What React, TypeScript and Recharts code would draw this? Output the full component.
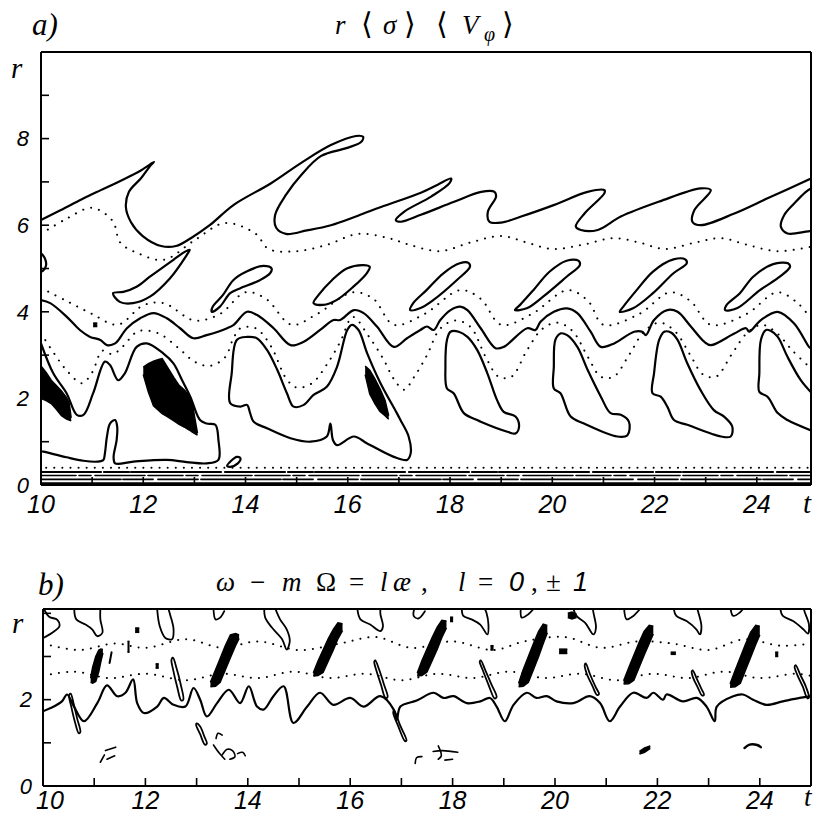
import React from 'react';
import { ComposedChart, Line, Area, XAxis, YAxis } from 'recharts';

type P = [number, number];
type B = [number, number, number];

// ---------- axis ticks ----------
const xTicksBottom = [10, 11, 12, 13, 14, 15, 16, 17, 18, 19, 20, 21, 22, 23, 24];
const xTicksTop = [11, 12, 13, 14, 15, 16, 17, 18, 19, 20, 21, 22, 23, 24];
const xLabels = [10, 12, 14, 16, 18, 20, 22, 24];
const yTicksA = [0, 1, 2, 3, 4, 5, 6, 7, 8, 9];
const yTicksARight = [1, 2, 3, 4, 5, 6, 7, 8, 9];
const yTicksB = [0, 1, 2, 3, 4];
const yTicksBRight = [1, 2, 3, 4];
const yLabelsA = [0, 2, 4, 6, 8];
const yLabelsB = [0, 2];

// ---------- panel a) solid contours ----------
const aWave: P[] = [[10.0,6.12],[10.39,6.35],[10.8,6.6],[11.17,6.81],[11.6,7.05],[11.96,7.27],[12.21,7.46],[12.15,7.39],[11.96,7.09],[11.72,6.77],[11.66,6.42],[11.76,6.07],[11.99,5.75],[12.35,5.52],[12.64,5.52],[12.93,5.7],[13.3,6.0],[13.77,6.47],[14.5,6.97],[15.09,7.44],[15.67,7.85],[16.16,8.06],[16.3,8.04],[16.26,7.92],[15.97,7.78],[15.48,7.6],[15.09,7.16],[14.79,6.7],[14.58,6.24],[14.6,5.94],[14.79,5.8],[15.2,5.88],[15.67,6.0],[16.2,6.22],[16.65,6.42],[17.43,6.75],[17.75,6.93],[18.02,7.08],[17.99,6.97],[17.63,6.66],[17.1,6.31],[16.94,6.12],[17.04,6.08],[17.43,6.24],[18.08,6.54],[18.61,6.77],[18.87,6.77],[18.9,6.66],[18.74,6.31],[18.77,6.08],[19.0,6.06],[19.39,6.2],[20.04,6.47],[20.69,6.77],[21.02,6.81],[21.02,6.74],[20.63,6.27],[20.46,5.97],[20.56,5.89],[20.89,5.89],[21.34,6.2],[22.1,6.55],[22.9,6.85],[23.1,6.81],[22.78,6.35],[22.74,6.08],[22.9,6.0],[23.56,6.27],[24.21,6.62],[25.06,7.08]];
const aWaveEdge: P[] = [[25.06,6.85],[24.96,6.77],[24.73,6.5],[24.54,6.24],[24.47,5.97],[24.6,5.81],[24.96,5.85],[25.06,5.87]];
const aLeftBump: P[] = [[10.0,5.35],[10.07,5.25],[10.1,5.08],[10.04,4.95],[10.0,4.93]];
const aMid: P[] = [[10.0,4.27],[10.18,4.2],[10.5,3.89],[10.76,3.58],[10.96,3.42],[11.16,3.35],[11.29,3.23],[11.45,3.27],[11.68,3.62],[11.94,3.85],[12.2,3.97],[12.46,3.85],[12.72,3.62],[12.98,3.39],[13.24,3.46],[13.64,3.62],[13.77,3.7],[14.03,4.0],[14.22,3.93],[14.55,3.62],[14.88,3.23],[15.14,3.31],[15.46,3.58],[15.72,3.81],[15.85,3.81],[16.12,4.04],[16.31,3.97],[16.57,3.66],[16.9,3.19],[17.16,3.39],[17.42,3.58],[17.55,3.66],[17.68,3.58],[17.81,3.81],[18.01,4.04],[18.2,4.12],[18.34,4.04],[18.6,3.62],[18.89,3.16],[19.05,3.19],[19.51,3.62],[19.67,3.58],[19.77,3.77],[20.03,4.0],[20.29,4.08],[20.49,3.97],[20.75,3.54],[20.95,3.19],[21.21,3.27],[21.6,3.54],[21.76,3.54],[21.83,3.46],[21.99,3.81],[22.25,4.04],[22.45,4.0],[22.71,3.66],[22.97,3.31],[23.1,3.23],[23.56,3.5],[23.79,3.62],[23.85,3.54],[24.08,3.81],[24.41,4.0],[24.73,3.73],[25.02,3.19],[25.06,3.15]];
const aLowLeft: P[] = [[10.0,3.27],[10.24,2.58],[10.5,2.12],[10.7,1.62],[10.83,1.62],[11.02,2.12],[11.25,2.85],[11.35,2.77],[11.51,2.42],[11.64,2.58],[11.87,3.19],[12.07,3.27],[12.39,3.04],[12.59,2.81],[12.76,2.42],[12.92,2.04],[13.11,1.5],[13.24,1.42],[13.41,1.39],[13.47,1.04],[13.47,0.58],[13.24,0.5],[12.85,0.53],[12.46,0.58],[11.81,0.54],[11.45,0.5],[11.42,0.65],[11.48,1.04],[11.49,1.35],[11.45,1.5],[11.35,1.42],[11.29,1.12],[11.25,0.73],[11.22,0.58],[11.1,0.54],[10.83,0.56],[10.5,0.64],[10.05,0.77],[10.0,0.78]];
const aLoopD: P[] = [[13.83,3.35],[14.03,3.42],[14.22,3.39],[14.42,3.12],[14.62,2.66],[14.81,2.12],[14.94,1.81],[15.14,1.85],[15.33,2.08],[15.59,2.27],[15.79,2.73],[15.99,3.58],[16.08,3.7],[16.21,3.58],[16.38,3.04],[16.64,2.35],[16.96,1.66],[17.03,1.5],[17.19,1.12],[17.23,0.73],[17.16,0.58],[16.9,0.65],[16.38,0.96],[16.12,1.12],[15.79,0.92],[15.71,1.04],[15.66,1.42],[15.59,1.12],[15.27,1.0],[14.88,1.08],[14.42,1.31],[14.16,1.46],[14.09,1.66],[14.03,1.85],[13.9,1.81],[13.7,1.89],[13.73,2.58],[13.83,3.35]];
const aLoopE1: P[] = [[18.01,3.54],[17.94,3.35],[17.91,2.73],[17.94,2.23],[18.07,2.12],[18.27,1.66],[18.53,1.5],[18.6,1.46],[19.12,1.23],[19.28,1.19],[19.35,1.35],[19.28,1.58],[19.05,1.69],[18.92,1.96],[18.73,2.58],[18.53,3.12],[18.34,3.42],[18.17,3.54],[18.01,3.54]];
const aLoopE2: P[] = [[20.16,3.5],[20.06,3.35],[20.03,2.73],[20.03,2.23],[20.16,2.12],[20.36,1.58],[20.62,1.42],[21.27,1.12],[21.47,1.15],[21.5,1.46],[21.34,1.62],[21.14,1.66],[20.95,2.04],[20.69,2.66],[20.49,3.19],[20.29,3.46],[20.16,3.5]];
const aLoopE3: P[] = [[22.19,3.54],[22.09,3.35],[21.99,2.58],[21.96,2.12],[22.12,2.04],[22.25,1.81],[22.38,1.5],[22.64,1.39],[23.3,1.12],[23.49,1.12],[23.52,1.35],[23.36,1.58],[23.16,1.73],[22.9,2.19],[22.64,2.81],[22.45,3.35],[22.32,3.52],[22.19,3.54]];
const aLoopE4: P[] = [[25.06,2.14],[24.86,2.42],[24.6,2.96],[24.41,3.42],[24.27,3.56],[24.18,3.58],[24.08,3.35],[24.05,2.58],[24.05,2.15],[24.21,2.04],[24.41,1.66],[24.6,1.5],[25.06,1.26]];
const aSmallLoop: P[] = [[13.64,0.44],[13.72,0.56],[13.83,0.65],[13.9,0.62],[13.85,0.5],[13.7,0.42],[13.64,0.44]];
const aIsle1: P[] = [[11.41,4.43],[11.54,4.23],[11.8,4.2],[12.13,4.35],[12.52,4.77],[12.85,5.31],[12.91,5.43],[12.82,5.39],[12.59,5.2],[12.13,4.81],[11.87,4.58],[11.61,4.46],[11.41,4.43]];
const aIsle2: P[] = [[13.34,4.0],[13.5,4.12],[13.7,4.43],[13.89,4.54],[14.28,4.73],[14.48,4.89],[14.51,5.0],[14.35,5.06],[14.02,4.93],[13.76,4.73],[13.56,4.39],[13.36,4.12],[13.34,4.0]];
const aIsle3: P[] = [[15.33,4.2],[15.52,4.16],[15.78,4.27],[16.11,4.58],[16.37,4.89],[16.43,5.04],[16.3,5.08],[15.98,5.0],[15.69,4.73],[15.43,4.39],[15.33,4.2]];
const aIsle4: P[] = [[17.22,4.04],[17.41,4.08],[17.67,4.27],[18.13,4.73],[18.39,5.04],[18.36,5.13],[18.19,5.12],[17.87,4.89],[17.54,4.5],[17.28,4.2],[17.22,4.04]];
const aIsle5: P[] = [[19.27,4.04],[19.5,4.08],[19.82,4.35],[20.28,4.81],[20.54,5.08],[20.51,5.18],[20.28,5.18],[19.95,4.93],[19.63,4.5],[19.37,4.16],[19.27,4.04]];
const aIsle6: P[] = [[21.32,4.0],[21.58,4.08],[21.97,4.43],[22.37,4.89],[22.63,5.12],[22.6,5.21],[22.37,5.21],[21.97,4.93],[21.65,4.5],[21.39,4.12],[21.32,4.0]];
const aIsle7: P[] = [[23.38,4.04],[23.61,4.08],[24.06,4.5],[24.45,4.81],[24.65,5.04],[24.61,5.12],[24.32,5.1],[23.93,4.81],[23.67,4.43],[23.41,4.16],[23.38,4.04]];

// bottom strip of nearly horizontal contours in panel a)
const aBase1: P[] = [[10.0,0.3],[25.03,0.3]];
const aBase2: P[] = [[10.0,0.22],[25.03,0.22]];
const aBase3: P[] = [[10.0,0.13],[25.03,0.13]];
const aBase4: P[] = [[10.0,0.03],[25.06,0.03]];
const aBaseDots: P[] = [[10.1,0.4],[25.0,0.4]];

// ---------- panel a) dotted contours ----------
const aDotUpper: P[] = [[10.0,5.8],[10.5,6.15],[11.0,6.4],[11.4,6.1],[11.55,5.6],[11.9,5.35],[12.4,5.2],[13.0,5.65],[13.6,6.05],[14.2,5.8],[14.45,5.45],[15.0,5.4],[15.6,5.55],[16.2,5.8],[16.8,5.7],[17.2,5.55],[17.8,5.4],[18.4,5.6],[19.0,5.75],[19.5,5.6],[20.0,5.45],[20.6,5.55],[21.2,5.7],[21.7,5.6],[22.2,5.45],[22.8,5.6],[23.3,5.7],[23.8,5.55],[24.4,5.4],[25.05,5.5]];
const aDotMid: P[] = [[10.0,4.55],[10.5,4.25],[11.0,3.95],[11.5,3.7],[12.0,4.15],[12.4,4.2],[13.0,3.8],[13.5,3.95],[14.0,4.45],[14.4,4.3],[14.9,3.7],[15.4,3.95],[16.1,4.45],[16.5,4.3],[16.9,3.7],[17.5,3.95],[18.2,4.5],[18.6,4.3],[19.0,3.7],[19.6,3.95],[20.3,4.5],[20.7,4.25],[21.0,3.7],[21.7,3.95],[22.3,4.45],[22.7,4.25],[23.1,3.7],[23.8,3.95],[24.4,4.45],[24.8,4.2],[25.05,3.85]];
const aDotLow: P[] = [[10.0,3.5],[10.25,3.05],[10.5,2.65],[10.8,2.35],[11.0,2.6],[11.2,3.1],[11.4,3.02],[11.6,3.2],[11.9,3.55],[12.3,3.5],[12.7,3.15],[13.0,2.85],[13.3,2.75],[13.6,2.95],[13.75,3.35],[13.9,3.62],[14.2,3.62],[14.5,3.2],[14.8,2.45],[15.0,2.25],[15.3,2.35],[15.6,2.8],[15.85,3.3],[16.1,3.88],[16.4,3.45],[16.7,2.9],[16.9,2.45],[17.1,2.2],[17.3,2.5],[17.55,3.0],[17.8,3.6],[18.1,3.8],[18.4,3.65],[18.7,2.95],[18.95,2.5],[19.2,2.5],[19.5,3.1],[19.8,3.6],[20.1,3.75],[20.4,3.55],[20.7,2.95],[20.95,2.5],[21.2,2.5],[21.5,3.0],[21.8,3.55],[22.1,3.75],[22.4,3.55],[22.7,3.0],[22.95,2.55],[23.2,2.5],[23.5,3.0],[23.8,3.5],[24.1,3.7],[24.4,3.5],[24.7,3.1],[25.05,2.7]];

// ---------- panel a) filled (black) regions: [t, rLow, rHigh] ----------
const aBlob1: B[] = [[10.0,2.0,2.75],[10.1,1.95,2.6],[10.2,1.88,2.42],[10.3,1.75,2.3],[10.4,1.6,2.17],[10.5,1.52,2.02],[10.55,1.5,1.9],[10.59,1.48,1.55]];
const aBlob2: B[] = [[12.0,2.55,2.72],[12.1,2.15,2.8],[12.2,1.83,2.86],[12.3,1.72,2.9],[12.37,1.65,2.92],[12.47,1.58,2.73],[12.6,1.48,2.48],[12.7,1.4,2.3],[12.8,1.34,2.2],[12.9,1.27,2.06],[12.96,1.22,1.9],[13.0,1.19,1.6],[13.06,1.15,1.2]];
const aBlob3: B[] = [[16.34,2.55,2.75],[16.43,2.1,2.65],[16.53,1.88,2.45],[16.63,1.7,2.22],[16.73,1.6,1.95],[16.8,1.52,1.6]];
const aDot1: B[] = [[11.02,3.66,3.74],[11.1,3.66,3.74]];

// ---------- panel b) solid contours ----------
const bWave: P[] = [[10.0,1.73],[10.21,1.84],[10.37,1.96],[10.47,2.12],[10.6,1.85],[10.8,1.5],[11.06,1.92],[11.25,2.33],[11.45,2.08],[11.61,2.16],[11.76,2.47],[11.84,1.92],[11.97,1.69],[12.23,1.84],[12.36,2.04],[12.55,1.88],[12.78,1.84],[12.94,2.27],[13.07,2.0],[13.2,1.61],[13.4,1.92],[13.63,2.23],[13.85,1.92],[14.02,2.31],[14.18,1.84],[14.31,1.77],[14.5,2.08],[14.7,2.31],[14.89,1.46],[15.16,1.84],[15.41,2.16],[15.67,1.88],[16.0,2.04],[16.26,1.84],[16.59,2.08],[16.85,1.77],[16.91,1.53],[16.98,1.84],[17.3,1.98],[17.63,2.16],[17.82,2.04],[18.02,2.08],[18.28,1.92],[18.54,1.96],[18.73,2.04],[18.86,1.84],[19.02,1.5],[19.19,1.88],[19.45,2.16],[19.64,2.04],[19.84,2.08],[20.03,1.96],[20.36,1.92],[20.68,2.08],[20.88,1.92],[21.07,1.5],[21.27,1.84],[21.53,2.16],[21.79,2.04],[21.92,2.16],[22.11,2.0],[22.18,2.12],[22.5,1.96],[22.77,2.04],[22.96,1.84],[23.12,1.5],[23.16,1.84],[23.48,2.08],[23.67,2.12],[23.87,2.0],[24.13,1.88],[24.45,1.96],[24.78,2.04],[25.0,2.08]];
const bSlim1: P[] = [[10.54,2.14],[10.6,1.9],[10.67,1.55],[10.73,1.25],[10.7,1.22],[10.62,1.5],[10.55,1.85],[10.51,2.1],[10.54,2.14]];
const bSlim2: P[] = [[12.54,2.97],[12.61,2.72],[12.69,2.35],[12.74,2.0],[12.7,1.98],[12.62,2.3],[12.54,2.7],[12.51,2.93],[12.54,2.97]];
const bSlim3: P[] = [[13.0,1.45],[13.07,1.38],[13.15,1.15],[13.2,0.98],[13.16,0.96],[13.07,1.2],[12.99,1.42],[13.0,1.45]];
const bSlim4: P[] = [[16.49,2.91],[16.57,2.68],[16.66,2.35],[16.73,2.06],[16.69,2.04],[16.6,2.35],[16.51,2.68],[16.47,2.88],[16.49,2.91]];
const bSlim5: P[] = [[16.86,1.75],[16.97,1.42],[17.1,1.05],[17.07,1.04],[16.94,1.38],[16.84,1.7],[16.86,1.75]];
const bSlim6: P[] = [[18.55,2.91],[18.64,2.68],[18.76,2.35],[18.86,2.06],[18.82,2.03],[18.7,2.35],[18.59,2.68],[18.53,2.88],[18.55,2.91]];
const bSlim7: P[] = [[20.6,2.84],[20.68,2.6],[20.79,2.3],[20.86,2.13],[20.82,2.11],[20.73,2.32],[20.62,2.6],[20.58,2.8],[20.6,2.84]];
const bSlim8: P[] = [[22.69,2.68],[22.77,2.48],[22.86,2.25],[22.91,2.11],[22.87,2.1],[22.79,2.28],[22.7,2.5],[22.67,2.65],[22.69,2.68]];
const bSlim9: P[] = [[24.7,2.8],[24.79,2.58],[24.9,2.3],[24.96,2.05],[24.93,2.03],[24.84,2.3],[24.73,2.58],[24.68,2.76],[24.7,2.8]];
const bHook1: P[] = [[10.02,4.1],[10.12,3.92],[10.28,3.85],[10.32,3.7],[10.18,3.55],[10.04,3.45],[10.0,3.42]];
const bHook2: P[] = [[10.61,4.1],[10.65,3.86],[10.83,3.74],[10.96,3.63],[11.06,3.47],[11.16,3.55],[11.12,3.86],[11.12,4.1]];
const bHook3: P[] = [[12.23,4.1],[12.28,3.7],[12.39,3.43],[12.52,3.4],[12.55,3.63],[12.49,3.94],[12.45,4.1]];
const bHook4: P[] = [[13.33,4.1],[13.37,3.86],[13.46,3.9],[13.54,4.05]];
const bHook5: P[] = [[14.32,4.1],[14.34,3.9],[14.47,3.67],[14.67,3.4],[14.76,3.16],[14.82,3.36],[14.76,3.63],[14.63,3.86],[14.54,4.1]];
const bHook6: P[] = [[16.14,4.1],[16.2,3.86],[16.39,3.74],[16.59,3.59],[16.64,3.7],[16.59,3.98],[16.59,4.1]];
const bHook7: P[] = [[17.25,4.1],[17.24,3.94],[17.33,3.88],[17.46,4.05]];
const bHook8: P[] = [[18.18,4.1],[18.21,3.94],[18.37,3.86],[18.54,3.74],[18.68,3.51],[18.7,3.74],[18.66,4.02],[18.63,4.1]];
const bHook9: P[] = [[19.33,4.1],[19.35,3.9],[19.48,3.98],[19.58,4.1]];
const bHook10: P[] = [[20.36,4.1],[20.42,3.94],[20.59,3.78],[20.75,3.51],[20.8,3.67],[20.75,4.02],[20.74,4.1]];
const bHook11: P[] = [[21.35,4.1],[21.4,3.86],[21.53,3.94],[21.66,4.1]];
const bHook12: P[] = [[22.32,4.1],[22.37,3.94],[22.57,3.82],[22.76,3.63],[22.83,3.51],[22.86,3.7],[22.8,4.02],[22.78,4.1]];
const bHook13: P[] = [[23.43,4.1],[23.48,3.94],[23.61,4.02],[23.67,4.1]];
const bHook14: P[] = [[24.4,4.1],[24.45,3.94],[24.65,3.82],[24.85,3.63],[24.94,3.53],[24.96,3.74],[24.88,4.02],[24.86,4.1]];
const bScr1: P[] = [[11.12,0.55],[11.2,0.72]];
const bScr2: P[] = [[11.25,0.62],[11.4,0.7]];
const bScr3: P[] = [[11.22,0.82],[11.42,0.9]];
const bScr4: P[] = [[13.38,1.1],[13.42,1.22],[13.5,1.18]];
const bScr5: P[] = [[13.33,0.95],[13.45,0.75],[13.55,0.62]];
const bScr6: P[] = [[13.5,0.72],[13.6,0.85],[13.7,0.82],[13.75,0.68],[13.65,0.62]];
const bScr7: P[] = [[13.8,0.75],[13.9,0.78],[13.95,0.7]];
const bScr8: P[] = [[17.27,0.52],[17.3,0.66],[17.4,0.68]];
const bScr9: P[] = [[17.62,0.8],[17.8,0.82],[18.1,0.78]];
const bScr10: P[] = [[17.72,0.93],[17.78,0.7],[17.72,0.62]];
const bScr11: P[] = [[17.85,0.6],[18.0,0.62]];
const bScr12: P[] = [[23.7,0.88],[23.8,0.96],[23.95,0.95],[24.02,0.9]];
const bTick1: P[] = [[11.3,2.85],[11.34,3.1]];

// ---------- panel b) dotted contours ----------
const bDotHigh: P[] = [[10.0,3.3],[10.7,3.15],[11.4,3.3],[12.0,3.2],[12.8,3.4],[13.5,3.2],[14.2,3.35],[15.0,3.15],[15.8,3.3],[16.5,3.45],[17.2,3.2],[18.0,3.35],[18.8,3.15],[19.4,3.35],[20.2,3.45],[20.9,3.2],[21.6,3.35],[22.3,3.3],[23.0,3.15],[23.7,3.4],[24.4,3.25],[25.0,3.3]];
const bDotLow: P[] = [[10.0,2.55],[10.6,2.65],[11.3,2.5],[12.0,2.6],[12.8,2.45],[13.5,2.6],[14.2,2.5],[14.9,2.65],[15.6,2.5],[16.3,2.6],[17.0,2.45],[17.7,2.6],[18.4,2.5],[19.1,2.65],[19.8,2.5],[20.5,2.6],[21.2,2.45],[21.9,2.6],[22.6,2.5],[23.3,2.65],[24.0,2.5],[24.7,2.6],[25.0,2.55]];

// ---------- panel b) filled regions ----------
const bBlob1: B[] = [[10.93,2.4,2.5],[10.97,2.38,2.75],[11.03,2.42,3.0],[11.09,2.65,3.15],[11.13,2.88,3.17],[11.17,3.08,3.16]];
const bBlob2: B[] = [[13.27,2.3,2.4],[13.37,2.31,2.69],[13.46,2.4,2.95],[13.56,2.69,3.25],[13.66,2.97,3.5],[13.76,3.25,3.53],[13.83,3.42,3.5]];
const bBlob3: B[] = [[15.28,2.55,2.62],[15.37,2.56,2.89],[15.47,2.63,3.15],[15.57,2.89,3.41],[15.67,3.15,3.63],[15.76,3.41,3.78],[15.85,3.6,3.76]];
const bBlob4: B[] = [[17.31,2.55,2.62],[17.4,2.56,2.9],[17.5,2.64,3.17],[17.6,2.9,3.44],[17.7,3.17,3.68],[17.79,3.44,3.84],[17.88,3.66,3.82]];
const bBlob5: B[] = [[19.29,2.3,2.38],[19.38,2.31,2.7],[19.48,2.4,3.0],[19.58,2.7,3.3],[19.68,3.0,3.58],[19.77,3.3,3.75],[19.85,3.55,3.72]];
const bBlob6: B[] = [[21.34,2.36,2.44],[21.44,2.37,2.74],[21.54,2.45,3.03],[21.64,2.74,3.32],[21.74,3.03,3.58],[21.84,3.3,3.72],[21.92,3.52,3.7]];
const bBlob7: B[] = [[23.42,2.29,2.37],[23.52,2.3,2.68],[23.62,2.38,2.98],[23.72,2.68,3.28],[23.82,2.98,3.56],[23.92,3.28,3.72],[24.0,3.5,3.7]];
const bSpot1: B[] = [[11.8,3.56,3.66],[11.88,3.56,3.66]];
const bSpot2: B[] = [[11.65,3.1,3.35],[11.69,3.1,3.35]];
const bSpot3: B[] = [[12.2,2.73,2.83],[12.26,2.73,2.83]];
const bSpot4: B[] = [[17.95,3.81,3.91],[18.01,3.81,3.91]];
const bSpot5: B[] = [[18.74,3.15,3.25],[18.8,3.15,3.25]];
const bSpot6: B[] = [[20.08,3.07,3.17],[20.24,3.07,3.17]];
const bSpot7: B[] = [[22.26,3.05,3.1],[22.36,3.05,3.1]];
const bSpot8: B[] = [[24.3,3.0,3.1],[24.36,3.0,3.1]];
const bSpot9: B[] = [[20.25,3.9,4.0],[20.33,3.87,4.03],[20.42,3.9,3.98]];
const bSpot10: B[] = [[21.65,0.74,0.8],[21.75,0.78,0.88],[21.86,0.87,0.93]];

// ---------- helpers ----------
const pts = (a: P[]) => a.map(([t, r]) => ({ t, r }));
const band = (a: B[]) => a.map(([t, lo, hi]) => ({ t, band: [lo, hi] }));

const SANS = 'Liberation Sans, Arial, Helvetica, sans-serif';
const SERIF = 'Liberation Serif, Times New Roman, DejaVu Serif, serif';

// centripetal Catmull-Rom curve (smooth line through every contour vertex)
function smoothCurve(context: any) {
  let buf: [number, number][] = [];
  return {
    areaStart() {},
    areaEnd() {},
    lineStart() { buf = []; },
    point(x: number, y: number) { buf.push([+x, +y]); },
    lineEnd() {
      const n = buf.length;
      if (n === 0) return;
      context.moveTo(buf[0][0], buf[0][1]);
      if (n < 3) {
        for (let i = 1; i < n; i++) context.lineTo(buf[i][0], buf[i][1]);
        return;
      }
      const closed = Math.abs(buf[0][0] - buf[n - 1][0]) < 0.01 && Math.abs(buf[0][1] - buf[n - 1][1]) < 0.01;
      const d = (a: [number, number], b: [number, number]) => Math.hypot(a[0] - b[0], a[1] - b[1]);
      for (let i = 0; i < n - 1; i++) {
        const p1 = buf[i];
        const p2 = buf[i + 1];
        const p0 = i > 0 ? buf[i - 1] : closed ? buf[n - 2] : p1;
        const p3 = i + 2 < n ? buf[i + 2] : closed ? buf[1] : p2;
        const d01 = d(p0, p1), d12 = d(p1, p2), d23 = d(p2, p3);
        const s01 = Math.sqrt(d01), s12 = Math.sqrt(d12), s23 = Math.sqrt(d23);
        let c1x = p1[0], c1y = p1[1], c2x = p2[0], c2y = p2[1];
        if (s01 > 1e-6 && s12 > 1e-6) {
          const a = 2 * d01 + 3 * s01 * s12 + d12;
          const m = 3 * s01 * (s01 + s12);
          c1x = (p1[0] * a - p0[0] * d12 + p2[0] * d01) / m;
          c1y = (p1[1] * a - p0[1] * d12 + p2[1] * d01) / m;
        }
        if (s23 > 1e-6 && s12 > 1e-6) {
          const b = 2 * d23 + 3 * s23 * s12 + d12;
          const m = 3 * s23 * (s23 + s12);
          c2x = (p2[0] * b + p1[0] * d23 - p3[0] * d12) / m;
          c2y = (p2[1] * b + p1[1] * d23 - p3[1] * d12) / m;
        }
        context.bezierCurveTo(c1x, c1y, c2x, c2y, p2[0], p2[1]);
      }
    },
  };
}

type LineOpt = { w?: number; dash?: string; straight?: boolean };

function solid(key: string, a: P[], o: LineOpt = {}) {
  return (
    <Line
      key={key}
      data={pts(a)}
      dataKey="r"
      xAxisId="x"
      yAxisId="y"
      type={o.straight ? 'linear' : (smoothCurve as any)}
      stroke="#000"
      strokeWidth={o.w ?? 2.2}
      strokeDasharray={o.dash}
      strokeLinecap="round"
      strokeLinejoin="round"
      dot={false}
      activeDot={false}
      isAnimationActive={false}
      legendType="none"
    />
  );
}

function dotted(key: string, a: P[]) {
  return solid(key, a, { w: 2, dash: '0.1 8' });
}

function filled(key: string, a: B[]) {
  return (
    <Area
      key={key}
      data={band(a)}
      dataKey="band"
      xAxisId="x"
      yAxisId="y"
      type="linear"
      stroke="#000"
      strokeWidth={1.5}
      fill="#000"
      fillOpacity={1}
      dot={false}
      activeDot={false}
      isAnimationActive={false}
      legendType="none"
    />
  );
}

const axisLine = { stroke: '#000', strokeWidth: 2 };
const tickLine = { stroke: '#000', strokeWidth: 1.6 };

function makeXTick(shift10: number, baseline: number) {
  return (props: any) => {
    const { x, y, payload } = props;
    const v = payload?.value;
    if (!xLabels.includes(v)) return <g />;
    return (
      <text
        x={x + (v === 10 ? shift10 : 0)}
        y={y + baseline}
        textAnchor="middle"
        fill="#000"
        fontSize={25}
        fontStyle="italic"
        fontFamily={SANS}
      >
        {String(v)}
      </text>
    );
  };
}

function frameAxes(
  xDomain: [number, number],
  yDomain: [number, number],
  yTicks: number[],
  yRight: number[],
  yLabels: number[],
  xHeight: number,
  yWidth: number,
  yMargin: number,
  shift10: number,
  baseline: number,
) {
  return [
    <XAxis
      key="xb"
      xAxisId="x"
      dataKey="t"
      type="number"
      domain={xDomain}
      allowDataOverflow
      ticks={xTicksBottom}
      interval={0}
      height={xHeight}
      tickSize={-8}
      tickMargin={10}
      axisLine={axisLine}
      tickLine={tickLine}
      tick={makeXTick(shift10, baseline)}
    />,
    <XAxis
      key="xt"
      xAxisId="top"
      orientation="top"
      type="number"
      domain={xDomain}
      allowDataOverflow
      ticks={xTicksTop}
      interval={0}
      height={1}
      tickSize={-8}
      axisLine={axisLine}
      tickLine={tickLine}
      tick={false}
    />,
    <YAxis
      key="yl"
      yAxisId="y"
      type="number"
      domain={yDomain}
      allowDataOverflow
      ticks={yTicks}
      interval={0}
      tickFormatter={(v: number) => (yLabels.includes(v) ? String(v) : '')}
      width={yWidth}
      tickSize={-8}
      tickMargin={yMargin}
      axisLine={axisLine}
      tickLine={tickLine}
      tick={{ fill: '#000', fontSize: 22, fontStyle: 'italic', fontFamily: SANS }}
    />,
    <YAxis
      key="yr"
      yAxisId="right"
      orientation="right"
      type="number"
      domain={yDomain}
      allowDataOverflow
      ticks={yRight}
      interval={0}
      width={1}
      tickSize={-8}
      axisLine={axisLine}
      tickLine={tickLine}
      tick={false}
    />,
  ];
}

export default function App() {
  return (
    <div style={{ position: 'absolute', left: 0, top: 0, width: 819, height: 813, background: '#fff' }}>
      <div style={{ position: 'absolute', left: 0, top: 0 }}>
        <ComposedChart width={819} height={530} margin={{ top: 51, right: 7, left: 0, bottom: 0 }}>
          {frameAxes([10, 25.06], [0, 10], yTicksA, yTicksARight, yLabelsA, 45, 41, 20, 0, 26)}
          {dotted('dU', aDotUpper)}
          {dotted('dM', aDotMid)}
          {dotted('dL', aDotLow)}
          {dotted('dB', aBaseDots)}
          {solid('base1', aBase1, { w: 2.2, dash: '60 3 25 2 90 4', straight: true })}
          {solid('base2', aBase2, { w: 1.6, dash: '35 3 12 4 50 3', straight: true })}
          {solid('base3', aBase3, { w: 1.8, dash: '80 2 30 5 40 3', straight: true })}
          {solid('base4', aBase4, { w: 3, straight: true })}
          {solid('wave', aWave)}
          {solid('waveEdge', aWaveEdge)}
          {solid('bump', aLeftBump)}
          {solid('mid', aMid)}
          {solid('lowLeft', aLowLeft)}
          {solid('D', aLoopD)}
          {solid('E1', aLoopE1)}
          {solid('E2', aLoopE2)}
          {solid('E3', aLoopE3)}
          {solid('E4', aLoopE4)}
          {solid('small', aSmallLoop)}
          {solid('I1', aIsle1)}
          {solid('I2', aIsle2)}
          {solid('I3', aIsle3)}
          {solid('I4', aIsle4)}
          {solid('I5', aIsle5)}
          {solid('I6', aIsle6)}
          {solid('I7', aIsle7)}
          {filled('b1', aBlob1)}
          {filled('b2', aBlob2)}
          {filled('b3', aBlob3)}
          {filled('d1', aDot1)}
        </ComposedChart>
      </div>

      <div style={{ position: 'absolute', left: 0, top: 560 }}>
        <ComposedChart width={819} height={253} margin={{ top: 48, right: 7, left: 0, bottom: 0 }}>
          {frameAxes([10, 25], [0, 4.1], yTicksB, yTicksBRight, yLabelsB, 27, 43, 19, 7, 21)}
          {dotted('bdH', bDotHigh)}
          {dotted('bdL', bDotLow)}
          {solid('bw', bWave)}
          {solid('s1', bSlim1, { w: 1.8 })}
          {solid('s2', bSlim2, { w: 1.8 })}
          {solid('s3', bSlim3, { w: 1.8 })}
          {solid('s4', bSlim4, { w: 1.8 })}
          {solid('s5', bSlim5, { w: 1.8 })}
          {solid('s6', bSlim6, { w: 1.8 })}
          {solid('s7', bSlim7, { w: 1.8 })}
          {solid('s8', bSlim8, { w: 1.8 })}
          {solid('s9', bSlim9, { w: 1.8 })}
          {solid('h1', bHook1, { w: 1.8 })}
          {solid('h2', bHook2, { w: 1.8 })}
          {solid('h3', bHook3, { w: 1.8 })}
          {solid('h4', bHook4, { w: 1.8 })}
          {solid('h5', bHook5, { w: 1.8 })}
          {solid('h6', bHook6, { w: 1.8 })}
          {solid('h7', bHook7, { w: 1.8 })}
          {solid('h8', bHook8, { w: 1.8 })}
          {solid('h9', bHook9, { w: 1.8 })}
          {solid('h10', bHook10, { w: 1.8 })}
          {solid('h11', bHook11, { w: 1.8 })}
          {solid('h12', bHook12, { w: 1.8 })}
          {solid('h13', bHook13, { w: 1.8 })}
          {solid('h14', bHook14, { w: 1.8 })}
          {solid('c1', bScr1, { w: 1.6 })}
          {solid('c2', bScr2, { w: 1.6 })}
          {solid('c3', bScr3, { w: 1.6 })}
          {solid('c4', bScr4, { w: 1.6 })}
          {solid('c5', bScr5, { w: 1.6 })}
          {solid('c6', bScr6, { w: 1.6 })}
          {solid('c7', bScr7, { w: 1.6 })}
          {solid('c8', bScr8, { w: 1.6 })}
          {solid('c9', bScr9, { w: 1.6 })}
          {solid('c10', bScr10, { w: 1.6 })}
          {solid('c11', bScr11, { w: 1.6 })}
          {solid('c12', bScr12, { w: 2.4 })}
          {solid('tk1', bTick1, { w: 2 })}
          {filled('p1', bBlob1)}
          {filled('p2', bBlob2)}
          {filled('p3', bBlob3)}
          {filled('p4', bBlob4)}
          {filled('p5', bBlob5)}
          {filled('p6', bBlob6)}
          {filled('p7', bBlob7)}
          {filled('q1', bSpot1)}
          {filled('q2', bSpot2)}
          {filled('q3', bSpot3)}
          {filled('q4', bSpot4)}
          {filled('q5', bSpot5)}
          {filled('q6', bSpot6)}
          {filled('q7', bSpot7)}
          {filled('q8', bSpot8)}
          {filled('q9', bSpot9)}
          {filled('q10', bSpot10)}
        </ComposedChart>
      </div>

      <svg width={819} height={813} style={{ position: 'absolute', left: 0, top: 0, pointerEvents: 'none' }}>
        <g fill="#000">
          <text x={32} y={35} fontFamily={SERIF} fontStyle="italic" fontSize={31}>a)</text>
          <text y={34} fontFamily={SERIF} fontSize={27}>
            <tspan x={335} fontStyle="italic">r</tspan>
            <tspan x={361} fontSize={30}>⟨</tspan>
            <tspan x={383} fontStyle="italic">σ</tspan>
            <tspan x={404} fontSize={30}>⟩</tspan>
            <tspan x={436} fontSize={30}>⟨</tspan>
            <tspan x={462} fontStyle="italic">V</tspan>
            <tspan x={484} dy={7} fontSize={20} fontStyle="italic">φ</tspan>
            <tspan x={502} dy={-7} fontSize={30}>⟩</tspan>
          </text>
          <text x={11} y={78} fontFamily={SERIF} fontStyle="italic" fontSize={29}>r</text>
          <text x={803} y={513} fontFamily={SERIF} fontStyle="italic" fontSize={29}>t</text>

          <text x={38} y={595} fontFamily={SERIF} fontStyle="italic" fontSize={31}>b)</text>
          <text y={591} fontSize={27}>
            <tspan x={216} fontFamily={SERIF} fontStyle="italic">ω</tspan>
            <tspan x={250} fontFamily={SERIF}>−</tspan>
            <tspan x={282} fontFamily={SERIF} fontStyle="italic">m</tspan>
            <tspan x={316} fontFamily={SERIF}>Ω</tspan>
            <tspan x={349} fontFamily={SERIF}>=</tspan>
            <tspan x={380} fontFamily={SERIF} fontStyle="italic">l</tspan>
            <tspan x={393} fontFamily={SERIF} fontStyle="italic">æ</tspan>
            <tspan x={421} fontFamily={SERIF}>,</tspan>
            <tspan x={458} fontFamily={SERIF} fontStyle="italic">l</tspan>
            <tspan x={478} fontFamily={SERIF}>=</tspan>
            <tspan x={509} fontFamily={SANS} fontStyle="italic">0</tspan>
            <tspan x={531} fontFamily={SERIF}>,</tspan>
            <tspan x={546} fontFamily={SERIF}>±</tspan>
            <tspan x={573} fontFamily={SANS} fontStyle="italic">1</tspan>
          </text>
          <text x={12} y={633} fontFamily={SERIF} fontStyle="italic" fontSize={29}>r</text>
          <text x={804} y={806} fontFamily={SERIF} fontStyle="italic" fontSize={27}>t</text>
        </g>
      </svg>
    </div>
  );
}
